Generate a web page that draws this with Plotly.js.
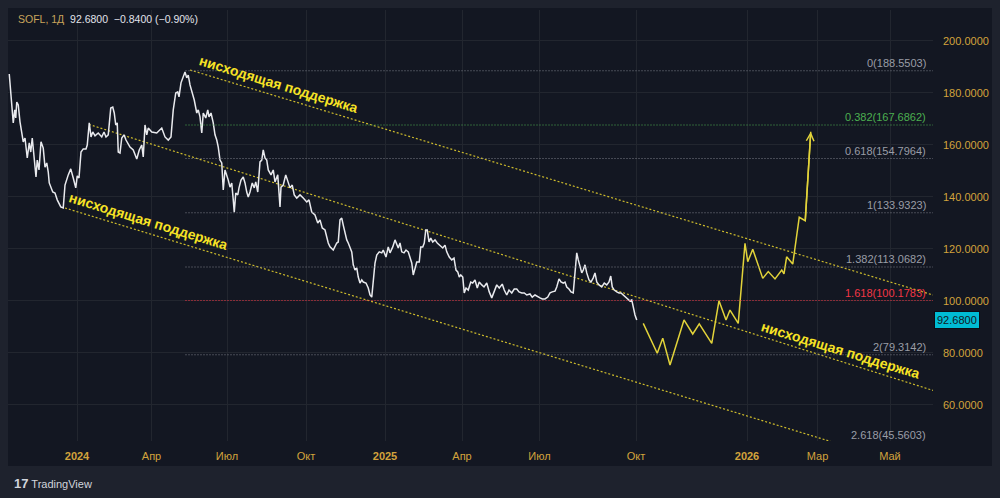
<!DOCTYPE html>
<html><head><meta charset="utf-8">
<script src="https://cdn.plot.ly/plotly-3.0.1.min.js"></script>
<style>html,body{margin:0;padding:0;background:#1e222d;}#chart{width:1000px;height:498px;}</style>
</head><body><div id="chart"></div>
<script>
// ---- data ----
const tickBars = [55.2, 114.8, 175.2, 238.4, 301.6, 363.2, 425.2, 502.4, 591.2, 647.6, 705.6];
const tickLabels = ['<b>2024</b>', 'Апр', 'Июл', 'Окт', '<b>2025</b>', 'Апр', 'Июл', 'Окт', '<b>2026</b>', 'Мар', 'Май'];
const priceTicks = [60, 80, 100, 120, 140, 160, 180, 200];

const priceBars = [1.0,4.2,5.4,6.2,7.0,8.2,9.6,12.2,13.6,15.4,17.0,18.2,19.4,21.0,22.4,23.4,24.8,26.4,28.2,29.6,31.0,32.2,33.0,35.8,37.6,39.4,42.2,44.2,45.6,48.2,50.2,52.2,54.2,55.4,56.8,58.4,60.2,62.4,63.4,65.0,66.4,67.8,69.6,72.2,75.0,76.8,78.4,80.2,82.2,83.8,85.0,86.2,87.4,88.2,89.6,91.0,92.8,94.4,97.6,100.2,103.0,105.0,107.0,108.2,109.6,111.0,112.2,115.0,119.0,123.0,125.6,128.2,130.4,132.2,134.2,135.8,136.8,138.4,140.2,141.6,143.0,144.2,145.6,147.4,149.0,151.0,152.2,153.6,155.0,156.2,158.2,159.8,160.8,162.4,164.2,165.6,167.0,168.2,169.6,171.0,172.2,173.6,175.0,176.2,177.6,179.0,180.2,181.0,182.2,183.8,184.8,186.4,188.2,189.6,191.0,192.2,193.6,195.4,197.0,198.2,199.8,201.6,203.0,204.2,205.6,207.0,208.2,210.4,212.2,213.6,215.8,217.6,218.4,220.2,222.2,223.8,225.6,227.4,229.0,231.0,233.6,236.2,239.0,240.8,243.0,245.6,247.8,249.6,251.4,253.6,255.0,256.2,257.6,260.2,263.0,264.2,265.6,267.0,268.2,269.6,271.0,272.2,273.6,275.0,276.2,277.6,279.0,280.2,281.6,283.0,284.2,286.4,288.2,289.6,291.0,292.2,293.6,295.0,297.0,299.0,300.2,302.4,304.2,305.6,307.8,309.6,311.0,312.2,313.6,315.0,316.8,318.4,320.2,321.6,323.0,324.2,325.6,327.0,329.0,330.2,331.8,333.0,334.2,335.4,336.8,338.2,339.8,341.6,343.4,345.6,347.8,349.6,351.0,353.0,355.0,356.8,358.4,359.8,361.0,362.2,363.8,365.0,366.4,368.2,370.2,371.8,373.6,375.4,377.0,379.0,380.8,383.0,385.0,387.0,388.8,391.0,393.0,395.4,397.0,399.0,400.8,403.0,405.0,407.0,408.8,411.0,413.0,415.0,417.6,419.4,421.6,423.8,425.6,427.4,429.6,431.8,433.6,435.4,437.6,439.0,440.8,442.4,444.2,445.6,447.0,448.8,450.4,452.2,453.6,455.0,456.2,457.6,459.0,460.2,461.6,463.0,464.8,466.4,468.2,469.6,471.0,472.8,475.0,477.0,479.0,480.8,482.2,483.4,485.0,487.0,488.8,490.4,492.2,494.2,495.8,497.6,499.0,500.2,501.6,503.0];
const priceValues = [187.3,168.5,173.5,170.4,176.5,175.4,168.9,161.2,162.7,155.0,160.8,157.3,162.7,155.4,147.7,154.2,150.4,161.2,158.8,151.5,153.1,149.6,145.4,141.9,141.5,138.9,136.2,135.8,144.6,148.5,150.8,147.3,143.5,148.1,147.3,157.3,158.5,158.5,160.0,168.5,163.1,165.0,163.5,164.6,163.1,165.0,163.1,163.9,174.2,174.6,172.3,167.7,168.5,157.3,156.9,162.7,163.9,161.9,159.2,158.1,154.6,158.1,160.0,155.4,167.7,163.9,166.5,165.0,164.6,166.5,163.1,161.9,163.1,173.5,180.0,180.4,178.5,183.9,186.2,188.1,185.8,186.9,183.1,180.0,177.3,172.3,173.5,170.8,164.6,172.3,170.4,173.5,170.8,172.3,168.5,163.9,161.9,159.2,154.2,153.1,142.7,150.4,148.5,146.5,143.8,145.4,138.9,134.2,141.5,140.8,143.5,146.5,147.7,145.4,141.9,140.0,141.9,145.4,143.5,145.8,141.9,153.5,154.2,158.1,155.0,154.2,150.4,148.5,150.4,145.8,148.5,136.2,143.8,144.6,148.5,146.5,143.5,144.6,140.8,139.6,140.8,139.6,138.1,138.9,134.2,133.1,130.0,131.2,128.1,127.3,124.6,122.3,120.8,119.6,122.3,122.7,131.2,131.9,129.2,126.2,123.5,122.3,120.8,118.9,113.9,111.9,112.7,109.2,106.9,108.1,107.3,106.9,105.0,102.3,101.5,108.1,114.6,117.7,118.9,118.5,119.6,116.9,120.8,118.5,120.8,123.5,121.5,120.4,122.3,118.9,118.5,119.6,118.9,116.9,114.6,110.0,112.7,115.0,115.0,120.8,120.8,122.3,127.3,127.3,122.7,124.2,122.7,123.5,122.3,121.5,120.4,121.5,118.9,116.9,115.8,116.5,111.9,111.2,109.2,110.0,109.2,103.1,105.0,104.2,107.3,106.9,108.1,105.0,107.3,106.2,105.4,106.9,103.5,101.2,103.5,106.2,105.0,106.5,104.2,102.3,104.2,103.1,104.6,104.6,103.5,103.1,103.1,102.3,102.7,101.5,102.3,101.5,101.2,100.8,100.8,101.5,103.1,103.5,103.8,105.4,108.5,107.3,106.9,107.3,105.4,104.6,103.5,103.1,111.2,118.5,115.8,113.1,110.8,111.9,113.9,110.8,108.1,107.3,108.9,110.8,107.3,106.2,105.4,106.9,106.2,107.3,109.6,105.4,104.2,103.5,103.1,103.1,102.3,101.5,100.8,100.0,100.4,97.3,94.6,92.68];

const projBars = [508.2,519.4,523.8,529.6,540.8,547.8,553.0,563.0,568.8,574.4,577.6,584.2,589.6,591.8,595.8,603.8,608.2,613.6,619.0,620.8,622.9,627.8,633.0,637.8,642.2];
const projValues = [91.4,79.9,85.7,75.4,92.7,87.3,91.2,83.7,100.1,92.7,96.5,91.4,122.2,115.1,119.9,108.7,111.3,108.5,111.9,110.4,117.0,114.2,132.2,130.9,165.1];

const fibRatios = ['0', '0.382', '0.618', '1', '1.382', '1.618', '2', '2.618'];
const fibPrices = [188.5503, 167.6862, 154.7964, 133.9323, 113.0682, 100.1783, 79.3142, 45.5603];
const fibStartBar = 142;
const fibEndBar = 740;

const channelUpperBars = [145.6, 740], channelUpperValues = [188.85, 102.31];
const channelMidBars = [64.8, 740], channelMidValues = [167.9, 65.6];
const channelLowBars = [45.6, 740], channelLowValues = [135.77, 33.97];

const channelLabel = 'нисходящая поддержка';
const labelBars = [216.0, 112.0, 666.0];
const labelValues = [183.3, 130.8, 81.0];

const lastPrice = 92.68;
const header = {symbol: 'SOFL, 1Д', price: '92.6800', change: '−0.8400 (−0.90%)'};

// ---- styles ----
const GOLD = '#d2a33c';
const FONT = 'Liberation Sans, Arial, sans-serif';
const Y_RANGE = [46.15, 211.92];
const X_RANGE = [0, 740];
const fibColor = r => r === '0.382' ? '#4caf50' : (r === '1.618' ? '#f23645' : '#7c7f89');
const fibLabelColor = r => r === '0.382' ? '#4caf50' : (r === '1.618' ? '#f23645' : '#9a9da6');
const toPaperY = v => (v - Y_RANGE[0]) / (Y_RANGE[1] - Y_RANGE[0]);

const traces = [];
[[channelUpperBars, channelUpperValues], [channelMidBars, channelMidValues], [channelLowBars, channelLowValues]].forEach(([xs, ys]) => {
  traces.push({x: xs, y: ys, type: 'scatter', mode: 'lines', hoverinfo: 'skip',
    line: {color: '#cdbb2c', width: 1.2, dash: '2px,2px'}});
});
traces.push({x: priceBars, y: priceValues, type: 'scatter', mode: 'lines', hoverinfo: 'skip',
  line: {color: '#e9eaee', width: 1.5}});
traces.push({x: projBars, y: projValues, type: 'scatter', mode: 'lines', hoverinfo: 'skip',
  line: {color: '#e2d33a', width: 1.5}});

const shapes = [{type: 'rect', xref: 'paper', yref: 'paper', x0: 0, x1: 984/925, y0: -25/431, y1: 433/431,
  fillcolor: '#131722', line: {width: 0}, layer: 'below'}];
fibPrices.forEach((p, i) => {
  shapes.push({type: 'line', xref: 'x', yref: 'y', x0: fibStartBar, x1: fibEndBar, y0: p, y1: p,
    line: {color: fibColor(fibRatios[i]), width: 1, dash: '1px,2px'}, layer: 'above'});
});

const annotations = [];
fibPrices.forEach((p, i) => {
  annotations.push({xref: 'x', yref: 'paper', x: 736, y: toPaperY(p), xanchor: 'right', yanchor: 'bottom',
    text: fibRatios[i] + '(' + p.toFixed(4) + ')', showarrow: false,
    font: {family: FONT, size: 11, color: fibLabelColor(fibRatios[i])}});
});
labelBars.forEach((b, i) => {
  annotations.push({xref: 'x', yref: 'y', x: b, y: labelValues[i], text: '<b>' + channelLabel + '</b>',
    showarrow: false, textangle: 17, xanchor: 'center', yanchor: 'middle',
    font: {family: FONT, size: 14, color: '#f7e325'}});
});
const n = projBars.length;
annotations.push({xref: 'x', yref: 'y', axref: 'x', ayref: 'y', x: projBars[n-1], y: projValues[n-1],
  ax: projBars[n-2], ay: projValues[n-2], text: '', showarrow: true, arrowhead: 5, arrowsize: 1,
  arrowwidth: 1.5, arrowcolor: '#e2d33a', standoff: 0});
annotations.push({xref: 'paper', yref: 'paper', x: 8/925, y: 422/431, xanchor: 'left', yanchor: 'middle',
  showarrow: false, font: {family: FONT, size: 10.5, color: '#e1e3ea'},
  text: '<span style="color:#c9a45b">' + header.symbol + '</span>&nbsp; ' + header.price + '&nbsp; ' + header.change});
annotations.push({xref: 'paper', yref: 'paper', x: 4/925, y: -42/431, xanchor: 'left', yanchor: 'middle',
  showarrow: false, font: {family: FONT, size: 11, color: '#d1d4dc'},
  text: '<b><span style="font-size:13px">17</span></b> TradingView'});
annotations.push({xref: 'paper', yref: 'y', x: 1, y: lastPrice, xanchor: 'left', yanchor: 'middle', xshift: 1,
  showarrow: false, text: lastPrice.toFixed(4), bgcolor: '#00bcd4', bordercolor: '#0b0e16', borderwidth: 1, borderpad: 2,
  font: {family: FONT, size: 11, color: '#131722'}});

const layout = {
  width: 1000, height: 498,
  margin: {l: 8, r: 67, t: 10, b: 57},
  paper_bgcolor: '#1e222d', plot_bgcolor: '#131722',
  showlegend: false,
  xaxis: {range: X_RANGE, tickmode: 'array', tickvals: tickBars, ticktext: tickLabels,
    showgrid: true, gridcolor: '#22262f', gridwidth: 1, zeroline: false, showline: false, ticks: '',
    tickfont: {family: FONT, size: 11, color: GOLD}, ticklabelstandoff: 7, fixedrange: true},
  yaxis: {side: 'right', range: Y_RANGE, tickmode: 'array', tickvals: priceTicks,
    ticktext: priceTicks.map(v => v.toFixed(4)),
    showgrid: true, gridcolor: '#22262f', gridwidth: 1, zeroline: false, showline: false, ticks: '',
    tickfont: {family: FONT, size: 11, color: GOLD}, ticklabelstandoff: 9, fixedrange: true},
  shapes: shapes,
  annotations: annotations
};

Plotly.newPlot('chart', traces, layout, {displayModeBar: false, staticPlot: true});
</script></body></html>
